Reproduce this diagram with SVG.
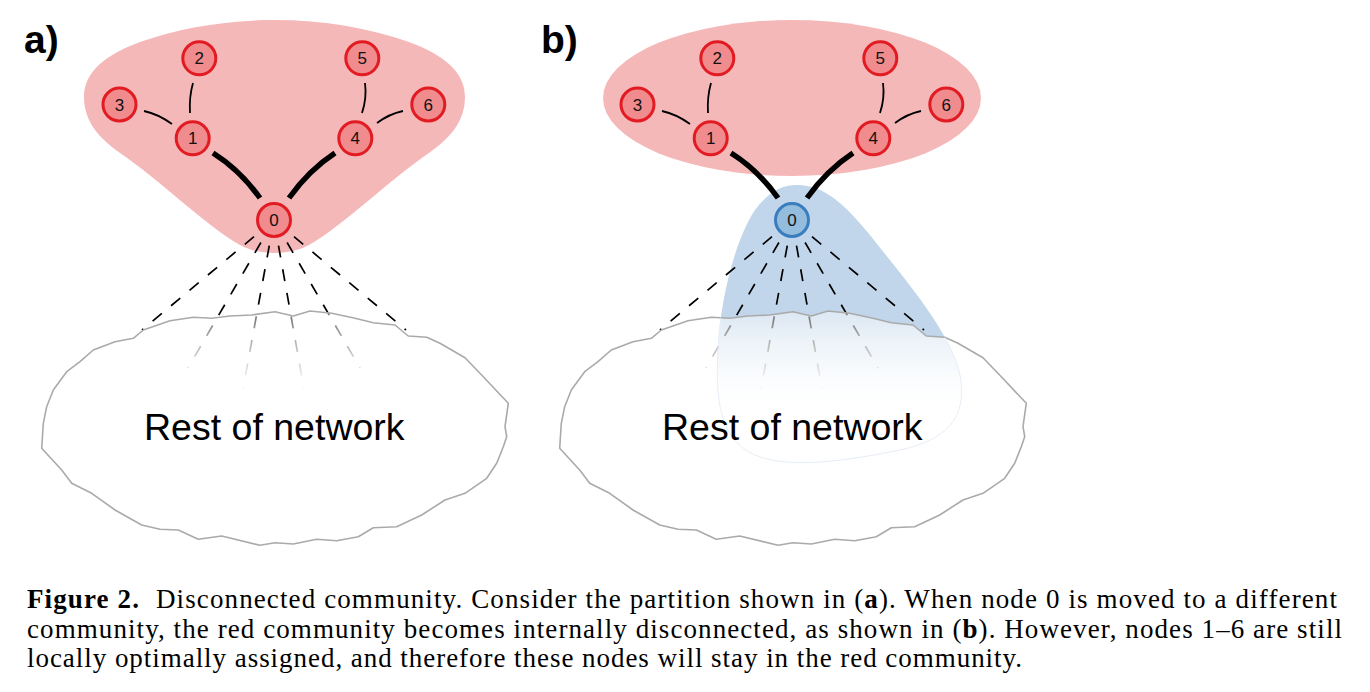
<svg xmlns="http://www.w3.org/2000/svg" xmlns:xlink="http://www.w3.org/1999/xlink" width="1370" height="692" viewBox="0 0 1370 692">
<style>
.blobR{fill:#f5b8b9;stroke:none}
.blobB{fill:#c1d6ea;stroke:none}
.nodeR circle{fill:#f08b8e;stroke:#e21b23;stroke-width:3}
.nodeB circle{fill:#94bddd;stroke:#3a7dbf;stroke-width:3}
.nl{font-family:"Liberation Sans",Arial,sans-serif;font-size:17px;fill:#111;text-anchor:middle}
.thin{fill:none;stroke:#000;stroke-width:1.8}
.thick{fill:none;stroke:#000;stroke-width:5.5}
.dash{fill:none;stroke:#000;stroke-width:1.7;stroke-dasharray:12 12}
.cloud{fill:url(#fade);stroke:#aaaaaa;stroke-width:1.6;stroke-linejoin:round}
.rest{font-family:"Liberation Sans",Arial,sans-serif;font-size:37.5px;fill:#000;text-anchor:middle}
.panel{font-family:"Liberation Sans",Arial,sans-serif;font-size:39px;font-weight:bold;fill:#000}
.cap{font-family:"Liberation Serif","Times New Roman",serif;font-size:27px;fill:#000}
</style>
<defs>
<linearGradient id="fade" gradientUnits="userSpaceOnUse" x1="0" y1="310" x2="0" y2="405">
<stop offset="0" stop-color="#fff" stop-opacity="0.42"/>
<stop offset="0.35" stop-color="#fff" stop-opacity="0.72"/>
<stop offset="0.75" stop-color="#fff" stop-opacity="0.95"/>
<stop offset="1" stop-color="#fff" stop-opacity="1"/>
</linearGradient>
<path id="cloud" d="M133.3,338.3 L143.3,330 L170,320.7 L193.3,317.3 L211.7,318.3 L230,316 L251.7,315 L275,311.7 L293.3,316 L310,311 L331.7,313.3 L355,318.3 L373.3,322.7 L395,325 L408.3,336 L426.7,337.3 L440,343.3 L465,357.7 L483.3,376.7 L508.3,403.3 L505,426.7 L506.7,436.7 L503.3,446.7 L496.7,463.3 L486.7,478.3 L465,493.3 L445,500 L421.7,515 L396.7,526.7 L373.3,527.7 L358.3,536.7 L336.7,540.7 L316.7,539.3 L293.3,544 L275,542.7 L260,545.3 L221.7,536 L198.3,539.3 L178.3,530 L160,529.3 L141.7,525 L115,510 L91.7,493.3 L71.7,483.3 L61.7,470 L41.7,448.3 L43.3,423.3 L46.7,406.7 L53.3,390 L66.7,371.7 L80,361.7 L93.3,350 L115,341.7 Z"/>
<clipPath id="clipB"><use xlink:href="#cloud" x="518"/></clipPath>
</defs>
<rect width="1370" height="692" fill="#fff"/>

<!-- communities -->
<g id="community-red-a">
<path class="blobR" d="M274.5,253 C262,252.5 251,251 240,245 C205,225 160,180 120,153 C100,139 84,122 84,97 C84,72 105,55 140,42 C180,28 225,20 274.5,20 C324,20 369,28 409,42 C444,55 465,72 465,97 C465,122 449,139 429,153 C389,180 344,225 309,245 C298,251 287,252.5 274.5,253 Z"/>
</g>
<g id="community-red-b">
<ellipse class="blobR" cx="792" cy="98" rx="189" ry="78"/>
</g>
<g id="community-blue-b">
<path class="blobB" d="M797,185 C825,185 845,205 870,235 C905,280 950,330 960,375 C968,420 945,440 900,450 C850,460 790,470 755,455 C720,440 715,400 718,350 C720,300 735,240 755,210 C768,193 780,185 797,185 Z"/>
</g>

<!-- connectors -->
<g id="connectors">
<g id="edges-a">
<path class="thin" d="M144,111 Q158,114 172,124"/>
<path class="thin" d="M193,83 Q189,97 190,113"/>
<path class="thin" d="M365,83 Q367,98 362,113"/>
<path class="thin" d="M403,111 Q389,114 377,123"/>
<path class="thick" d="M213,153 Q240,170 260,198"/>
<path class="thick" d="M335,153 Q309,170 289,198"/>
<line class="dash" x1="254" y1="236.6" x2="142" y2="330"/>
<line class="dash" x1="260.9" y1="242.5" x2="188" y2="368"/>
<line class="dash" x1="269.3" y1="245.6" x2="243" y2="389"/>
<line class="dash" x1="278.5" y1="245.6" x2="304" y2="389"/>
<line class="dash" x1="287.1" y1="242.5" x2="360" y2="368"/>
<line class="dash" x1="294" y1="236.6" x2="406" y2="330"/>
</g>
<g id="edges-b" transform="translate(518,0)">
<path class="thin" d="M144,111 Q158,114 172,124"/>
<path class="thin" d="M193,83 Q189,97 190,113"/>
<path class="thin" d="M365,83 Q367,98 362,113"/>
<path class="thin" d="M403,111 Q389,114 377,123"/>
<path class="thick" d="M213,153 Q240,170 260,198"/>
<path class="thick" d="M335,153 Q309,170 289,198"/>
<line class="dash" x1="254" y1="236.6" x2="142" y2="330"/>
<line class="dash" x1="260.9" y1="242.5" x2="188" y2="368"/>
<line class="dash" x1="269.3" y1="245.6" x2="243" y2="389"/>
<line class="dash" x1="278.5" y1="245.6" x2="304" y2="389"/>
<line class="dash" x1="287.1" y1="242.5" x2="360" y2="368"/>
<line class="dash" x1="294" y1="236.6" x2="406" y2="330"/>
</g>
</g>

<!-- rest of network -->
<g id="rest-a">
<use xlink:href="#cloud" class="cloud"/>
<text class="rest" x="274.3" y="440">Rest of network</text>
</g>
<g id="rest-b">
<use xlink:href="#cloud" class="cloud" x="518"/>
<path clip-path="url(#clipB)" fill="none" stroke="#e6edf5" stroke-width="1" d="M797,185 C825,185 845,205 870,235 C905,280 950,330 960,375 C968,420 945,440 900,450 C850,460 790,470 755,455 C720,440 715,400 718,350 C720,300 735,240 755,210 C768,193 780,185 797,185 Z"/>
<text class="rest" x="792.3" y="440">Rest of network</text>
</g>

<!-- nodes panel a -->
<g id="a-node-0" class="nodeR"><circle cx="274" cy="220" r="16.5"/><text class="nl" x="274" y="226">0</text></g>
<g id="a-node-1" class="nodeR"><circle cx="192.7" cy="138.3" r="16.5"/><text class="nl" x="192.7" y="144.3">1</text></g>
<g id="a-node-2" class="nodeR"><circle cx="199.3" cy="58.3" r="16.5"/><text class="nl" x="199.3" y="64.3">2</text></g>
<g id="a-node-3" class="nodeR"><circle cx="119.5" cy="104.5" r="16.5"/><text class="nl" x="119.5" y="110.5">3</text></g>
<g id="a-node-4" class="nodeR"><circle cx="355.3" cy="138.3" r="16.5"/><text class="nl" x="355.3" y="144.3">4</text></g>
<g id="a-node-5" class="nodeR"><circle cx="362.3" cy="58.3" r="16.5"/><text class="nl" x="362.3" y="64.3">5</text></g>
<g id="a-node-6" class="nodeR"><circle cx="428.3" cy="104.5" r="16.5"/><text class="nl" x="428.3" y="110.5">6</text></g>

<!-- nodes panel b -->
<g id="b-node-0" class="nodeB"><circle cx="792" cy="220" r="16.5"/><text class="nl" x="792" y="226">0</text></g>
<g id="b-node-1" class="nodeR"><circle cx="710.7" cy="138.3" r="16.5"/><text class="nl" x="710.7" y="144.3">1</text></g>
<g id="b-node-2" class="nodeR"><circle cx="717.3" cy="58.3" r="16.5"/><text class="nl" x="717.3" y="64.3">2</text></g>
<g id="b-node-3" class="nodeR"><circle cx="637.5" cy="104.5" r="16.5"/><text class="nl" x="637.5" y="110.5">3</text></g>
<g id="b-node-4" class="nodeR"><circle cx="873.3" cy="138.3" r="16.5"/><text class="nl" x="873.3" y="144.3">4</text></g>
<g id="b-node-5" class="nodeR"><circle cx="880.3" cy="58.3" r="16.5"/><text class="nl" x="880.3" y="64.3">5</text></g>
<g id="b-node-6" class="nodeR"><circle cx="946.3" cy="104.5" r="16.5"/><text class="nl" x="946.3" y="110.5">6</text></g>

<!-- panel labels -->
<text class="panel" x="24" y="53">a)</text>
<text class="panel" x="541" y="53">b)</text>

<!-- caption -->
<g id="caption">
<text class="cap" x="27" y="607.5" textLength="1310" lengthAdjust="spacing"><tspan font-weight="bold">Figure 2.</tspan><tspan dx="8"> Disconnected community. Consider the partition shown in (</tspan><tspan font-weight="bold">a</tspan>). When node 0 is moved to a different</text>
<text class="cap" x="27" y="638" textLength="1315" lengthAdjust="spacing">community, the red community becomes internally disconnected, as shown in (<tspan font-weight="bold">b</tspan>). However, nodes 1–6 are still</text>
<text class="cap" x="27" y="667" textLength="995" lengthAdjust="spacing">locally optimally assigned, and therefore these nodes will stay in the red community.</text>
</g>
</svg>
